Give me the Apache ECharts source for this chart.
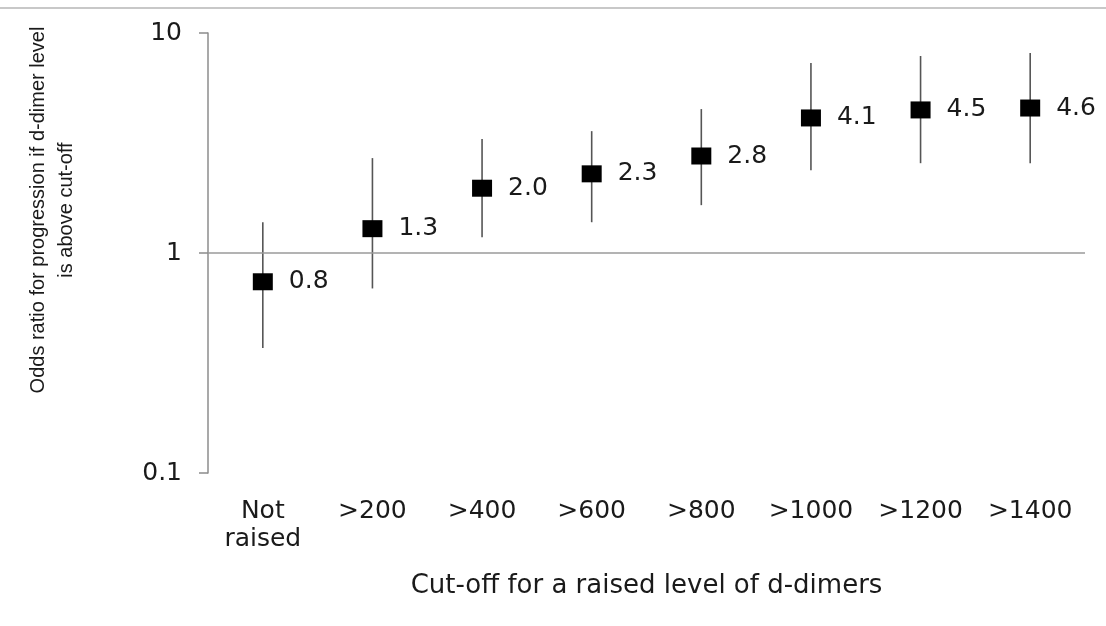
<!DOCTYPE html>
<html>
<head>
<meta charset="utf-8">
<script src="https://cdn.jsdelivr.net/npm/echarts@6/dist/echarts.min.js"></script>
<style>
html,body{margin:0;padding:0;background:#fff;}
#main{width:1106px;height:626px;}
</style>
</head>
<body>
<div id="main"></div>
<script>
var categories = ['Not\nraised', '>200', '>400', '>600', '>800', '>1000', '>1200', '>1400'];
var oddsRatio = [0.74, 1.29, 1.97, 2.29, 2.76, 4.11, 4.47, 4.56];
var ciLower = [0.37, 0.69, 1.18, 1.38, 1.65, 2.38, 2.56, 2.56];
var ciUpper = [1.38, 2.70, 3.30, 3.58, 4.51, 7.30, 7.86, 8.11];
var valueLabels = ['0.8', '1.3', '2.0', '2.3', '2.8', '4.1', '4.5', '4.6'];
var yTickLabels = {'0.1': '0.1', '1': '1', '10': '10'};

var chart = echarts.init(document.getElementById('main'));
var textColor = '#1a1a1a';
var axisColor = '#8c8c8c';

var errData = categories.map(function (c, i) { return [i, ciLower[i], ciUpper[i]]; });
var pointData = categories.map(function (c, i) { return [i, oddsRatio[i]]; });

chart.setOption({
  animation: false,
  backgroundColor: '#fff',
  grid: { left: 208, right: 21, top: 33, bottom: 153, containLabel: false },
  xAxis: {
    type: 'category',
    data: categories,
    axisLine: { show: false },
    axisTick: { show: false },
    splitLine: { show: false },
    axisLabel: {
      interval: 0, margin: 24, color: textColor,
      fontFamily: 'DejaVu Sans', fontSize: 25, lineHeight: 28
    },
    name: 'Cut-off for a raised level of d-dimers',
    nameLocation: 'middle',
    nameGap: 100,
    nameTextStyle: { color: textColor, fontFamily: 'DejaVu Sans', fontSize: 26 }
  },
  yAxis: {
    type: 'log',
    logBase: 10,
    min: 0.1,
    max: 10,
    axisLine: { show: true, lineStyle: { color: axisColor, width: 1.5 } },
    axisTick: { show: true, length: 9, lineStyle: { color: axisColor, width: 1.5 } },
    splitLine: { show: false },
    axisLabel: {
      margin: 26, color: textColor, fontFamily: 'DejaVu Sans', fontSize: 25,
      formatter: function (v) {
        var k = String(Math.round(v * 10) / 10);
        return yTickLabels[k] !== undefined ? yTickLabels[k] : '';
      }
    }
  },
  graphic: [
    {
      type: 'line', silent: true,
      shape: { x1: 0, y1: 8, x2: 1106, y2: 8 },
      style: { stroke: '#c8c8c8', lineWidth: 2 }
    },
    {
      type: 'text', silent: true,
      x: 52, y: 210, rotation: Math.PI / 2,
      style: {
        text: 'Odds ratio for progression if d-dimer level\nis above cut-off',
        fill: textColor,
        font: '20px "Liberation Sans", Arial, sans-serif',
        align: 'center', verticalAlign: 'middle',
        lineHeight: 28
      }
    }
  ],
  series: [
    {
      type: 'custom',
      z: 1,
      data: errData,
      encode: { x: 0, y: [1, 2] },
      renderItem: function (params, api) {
        var idx = api.value(0);
        var p1 = api.coord([idx, api.value(1)]);
        var p2 = api.coord([idx, api.value(2)]);
        return {
          type: 'line',
          shape: { x1: p1[0], y1: p1[1], x2: p2[0], y2: p2[1] },
          style: { stroke: '#555', lineWidth: 1.6 }
        };
      }
    },
    {
      type: 'scatter',
      z: 3,
      data: pointData,
      symbol: 'rect',
      symbolSize: [20, 17],
      itemStyle: { color: '#000', opacity: 1 },
      label: {
        show: true, position: 'right', distance: 16,
        color: textColor, opacity: 1, fontFamily: 'DejaVu Sans', fontSize: 25,
        formatter: function (p) { return valueLabels[p.dataIndex]; }
      },
      markLine: {
        silent: true, symbol: 'none', label: { show: false },
        lineStyle: { color: '#9a9a9a', width: 1.5, type: 'solid', opacity: 1 },
        data: [{ yAxis: 1 }]
      }
    }
  ]
});
</script>
</body>
</html>
